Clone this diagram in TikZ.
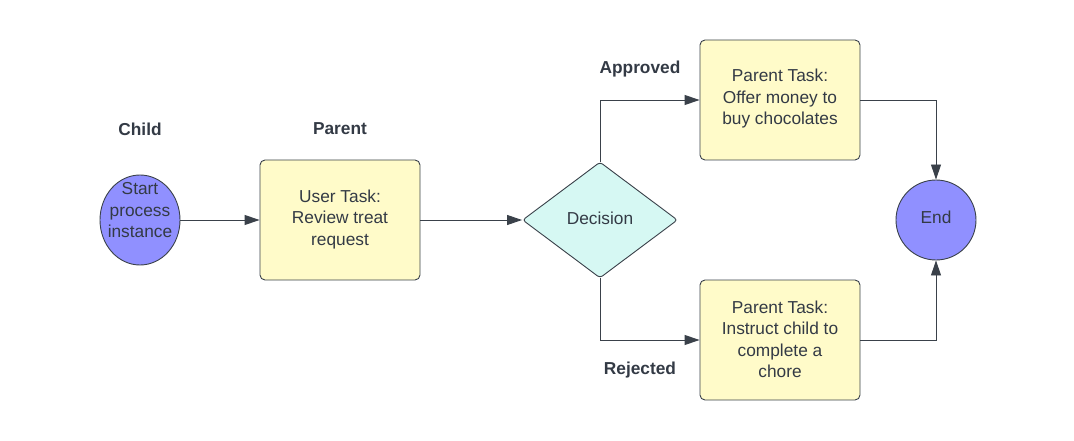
\documentclass[tikz,border=0pt]{standalone}
\usepackage{fontspec}
\setmainfont{Liberation Sans}
\usetikzlibrary{shapes.geometric,arrows.meta}
\definecolor{ink}{HTML}{3A414A}
\definecolor{txt}{HTML}{333A45}
\definecolor{circfill}{HTML}{9090FF}
\definecolor{boxfill}{HTML}{FFFBC9}
\definecolor{diafill}{HTML}{D6F8F3}
\newcommand\ctext[2]{\raisebox{#1}[0pt][0pt]{\makebox[0pt]{\begin{tabular}{@{}c@{}}#2\end{tabular}}}}
\tikzset{
  base/.style={draw=ink, line width=0.9pt, text=txt, font=\fontsize{17.3}{21.5}\selectfont, inner sep=0pt},
  taskbox/.style={base, rectangle, rounded corners=5pt, fill=boxfill, minimum width=160pt, minimum height=120pt},
  circ/.style={base, ellipse, fill=circfill},
  decision/.style={base, diamond, fill=diafill, minimum width=155pt, minimum height=116pt, rounded corners=3pt},
  lbl/.style={text=txt, font=\fontsize{17.3}{20}\selectfont\bfseries},
  conn/.style={draw=ink, line width=0.9pt, -{Triangle[length=15pt,width=10pt]}},
}
\begin{document}
\begin{tikzpicture}[x=1pt,y=-1pt]
\useasboundingbox (0,0) rectangle (1074,441);
\node[circ, minimum width=80pt, minimum height=90pt] (start) at (140,220) {\ctext{3.6pt}{Start\\process\\instance}};
\node[taskbox] (review) at (340,220) {\ctext{-4pt}{User Task:\\Review treat\\request}};
\node[decision] (dec) at (600,220) {\ctext{-4.3pt}{Decision}};
\node[taskbox] (offer) at (780,100) {\ctext{-3.4pt}{Parent Task:\\Offer money to\\buy chocolates}};
\node[taskbox] (chore) at (780,340) {\ctext{-5.5pt}{Parent Task:\\Instruct child to\\complete a\\chore}};
\node[circ, minimum width=80pt, minimum height=80pt] (end) at (936,220) {\ctext{-3.3pt}{End}};
\node[lbl] (child) at (140,129) {Child};
\node[lbl] (parent) at (340,129) {Parent};
\node[lbl] (appr) at (640,69) {Approved};
\node[lbl] (rej) at (640,370) {Rejected};
\draw[conn] (start) -- (review);
\draw[conn] (review) -- (dec);
\draw[conn] (dec.north) |- (offer.west);
\draw[conn] (dec.south) |- (chore.west);
\draw[conn] (offer.east) -| (end.north);
\draw[conn] (chore.east) -| (end.south);
\end{tikzpicture}
\end{document}
